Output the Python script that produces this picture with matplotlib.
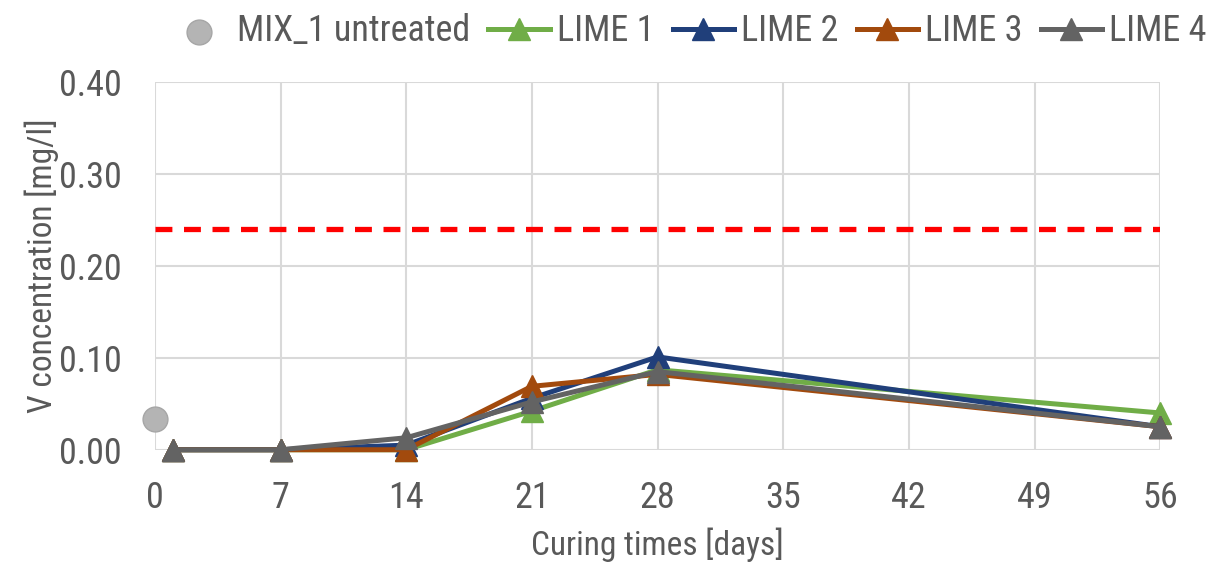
import matplotlib
matplotlib.use("Agg")
import matplotlib.pyplot as plt
from matplotlib import font_manager

names = {f.name for f in font_manager.fontManager.ttflist}
family = [n for n in ["Liberation Sans Narrow", "Roboto Condensed", "Roboto", "DejaVu Sans"] if n in names]
plt.rcParams['font.family'] = family

days = [1, 7, 14, 21, 28, 56]
lime1 = [0.0, 0.0, 0.0, 0.042, 0.087, 0.040]
lime2 = [0.0, 0.0, 0.005, 0.056, 0.101, 0.025]
lime3 = [0.0, 0.0, 0.0, 0.069, 0.082, 0.025]
lime4 = [0.0, 0.0, 0.013, 0.052, 0.085, 0.025]
untreated_day = [0]
untreated_val = [0.033]
limit_val = 0.24
xticks = [0, 7, 14, 21, 28, 35, 42, 49, 56]
yticks = [0.0, 0.1, 0.2, 0.3, 0.4]

txt = '#595959'
fig = plt.figure(figsize=(12.29, 5.70), dpi=100)
ax = fig.add_axes([0.126, 0.211, 0.818, 0.645])

ax.plot([0, 56], [limit_val, limit_val], color='#ff0000', lw=3.8, ls=(0, (3.2, 2.2)), zorder=2)
ax.scatter(untreated_day, untreated_val, s=320, color='#b4b4b4', edgecolor='#a6a6a6', zorder=5,
           label='MIX_1 untreated', clip_on=False)
series = [(lime1, '#70ad47', 'LIME 1'), (lime2, '#203f7a', 'LIME 2'),
          (lime3, '#a24a0d', 'LIME 3'), (lime4, '#636363', 'LIME 4')]
for vals, c, lab in series:
    ax.plot(days, vals, color=c, lw=3.6, marker='^', ms=16, label=lab, zorder=4, clip_on=False)

ax.set_xlim(0, 56)
ax.set_ylim(0, 0.4)
ax.set_xticks(xticks)
ax.set_yticks(yticks)
ax.set_yticklabels([f'{v:.2f}' for v in yticks])
ax.grid(True, color='#d9d9d9', lw=1.5)
ax.set_axisbelow(True)
for s in ax.spines.values():
    s.set_visible(False)
ax.tick_params(axis='y', length=0, labelsize=26, colors=txt, pad=24)
ax.tick_params(axis='x', length=0, labelsize=26, colors=txt, pad=22)
ax.set_xlabel('Curing times [days]', fontsize=24, color=txt, labelpad=8)
ax.set_ylabel('V concentration [mg/l]', fontsize=24, color=txt, labelpad=0)

leg = ax.legend(loc='lower center', bbox_to_anchor=(0.53, 1.02), ncol=5, frameon=False,
                fontsize=26, handlelength=1.7, handletextpad=0.2, columnspacing=0.5,
                borderaxespad=0.3)
for t in leg.get_texts():
    t.set_color(txt)

fig.savefig('out.png', dpi=100)
